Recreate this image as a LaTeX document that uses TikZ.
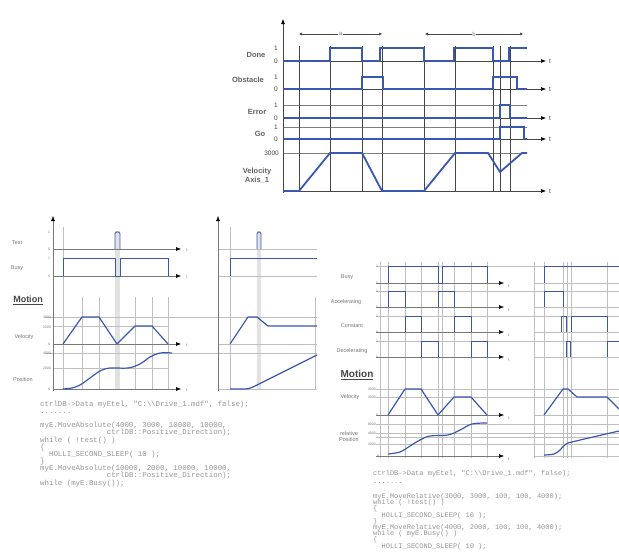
\documentclass[tikz,border=0pt]{standalone}
\usepackage{fontspec}
\setmainfont{Liberation Sans}
\setmonofont{Liberation Mono}
\usetikzlibrary{arrows.meta}
\definecolor{sigblue}{RGB}{58,88,178}
\definecolor{lgray}{RGB}{190,190,190}
\definecolor{dgray}{RGB}{70,70,70}
\definecolor{tgray}{RGB}{120,120,120}
\definecolor{cgray}{RGB}{150,150,150}
\tikzset{
  tsig/.style={draw=sigblue,line width=1.8pt,line join=miter},
  bsig/.style={draw=sigblue,line width=1.2pt,line join=round},
  thinsig/.style={draw=sigblue,line width=0.9pt},
  tvgrid/.style={draw=dgray,line width=0.5pt},
  tgrid/.style={draw=dgray!70,line width=0.4pt},
  bgrid/.style={draw=lgray,line width=0.5pt},
  band/.style={fill=lgray!45,draw=none},
  taxis/.style={draw=dgray,line width=0.6pt,-{Latex[length=5pt,width=4pt,black]}},
  baxis/.style={draw=tgray,line width=0.5pt,-{Latex[length=5pt,width=4pt,black]}},
  dimline/.style={draw=dgray,line width=0.5pt,{Latex[length=3pt,width=3pt]}-{Latex[length=3pt,width=3pt]}},
  tlbl/.style={font=\bfseries\fontsize{7.5}{8}\selectfont,text=dgray!85,inner sep=0pt},
  tick/.style={font=\fontsize{6.5}{7}\selectfont,text=dgray,inner sep=0pt},
  blbl/.style={font=\fontsize{5.5}{6}\selectfont,text=tgray,inner sep=0pt},
  btick/.style={font=\fontsize{3.5}{4}\selectfont,text=tgray,inner sep=0pt},
  motion/.style={font=\bfseries\fontsize{9}{10}\selectfont,text=dgray,inner sep=0.5pt},
  code/.style={font=\ttfamily\fontsize{7.4}{7.5}\selectfont,text=cgray,inner sep=0pt,anchor=west},
  rcode/.style={font=\ttfamily\fontsize{7}{7.2}\selectfont,text=cgray,inner sep=0pt,anchor=west},
}
\begin{document}
\begin{tikzpicture}[x=1pt,y=-1pt]
\useasboundingbox[fill=white] (0,0) rectangle (619,554);

%%%%%%%%%%%%%%%% TOP DIAGRAM %%%%%%%%%%%%%%%%
\foreach \y in {105,127,153} \draw[tgrid] (283,\y) -- (527,\y);
\foreach \x in {299,330,362,382,424,455,493,500,510} \draw[tvgrid] (\x,46) -- (\x,192);
\draw[taxis] (283,193) -- (283,19);
\foreach \y in {61,89,118,139,191} \draw[taxis] (283,\y) -- (546,\y);
\node[tick] (tt1) at (550,61) {t};
\node[tick] (tt2) at (550,89) {t};
\node[tick] (tt3) at (550,118) {t};
\node[tick] (tt4) at (550,139) {t};
\node[tick] (tt5) at (550,191) {t};
% dimension arrows
\draw[dimline] (299,34) -- node[fill=white,inner sep=0.5pt,font=\fontsize{6}{6}\selectfont,text=tgray] (la) {a} (382,34);
\draw[dimline] (425,34) -- node[fill=white,inner sep=0.5pt,font=\fontsize{6}{6}\selectfont,text=tgray] (lb) {b} (523,34);
% signals
\draw[tsig] (283,61) -- (330,61) -- (330,48) -- (362,48) -- (362,61) -- (380,61) -- (380,48) -- (424,48) -- (424,61) -- (454,61) -- (454,48) -- (493,48) -- (493,61) -- (509,61) -- (509,48) -- (527,48);
\draw[tsig] (283,89) -- (362,89) -- (362,77) -- (383,77) -- (383,89) -- (493,89) -- (493,77) -- (517,77) -- (517,89) -- (527,89);
\draw[tsig] (283,118) -- (500,118) -- (500,105) -- (510,105) -- (510,118) -- (527,118);
\draw[tsig] (283,139) -- (500,139) -- (500,127) -- (524,127) -- (524,139) -- (527,139);
\draw[tsig] (283,191) -- (299,191) -- (330,153) -- (362,153) -- (382,191) -- (424,191) -- (455,153) -- (488,153) -- (500,172) -- (522,153) -- (527,153);
% labels
\node[tlbl] (ldone) at (256,55) {Done};
\node[tlbl] (lobst) at (248,80) {Obstacle};
\node[tlbl] (lerr) at (257,112) {Error};
\node[tlbl] (lgo) at (260,134) {Go};
\node[tlbl,align=center] (lvel) at (257,176) {Velocity\\[1pt]Axis\_1};
\node[tick] (d1) at (276,48) {1};
\node[tick] (d0) at (276,61) {0};
\node[tick] (o1) at (276,77) {1};
\node[tick] (o0) at (276,89) {0};
\node[tick] (e1) at (276,105) {1};
\node[tick] (e0) at (276,118) {0};
\node[tick] (g1) at (276,127) {1};
\node[tick] (g0) at (276,139) {0};
\node[tick,anchor=east] (v3) at (279,153) {3000};

%%%%%%%%%%%%%%%% BOTTOM LEFT %%%%%%%%%%%%%%%%
\fill[band] (115,231) rectangle (120,390);
\fill[band] (257,231) rectangle (261,390);
\foreach \x in {63,230} \draw[bgrid] (\x,227) -- (\x,390);
\foreach \x in {82,99,135,152,168,315} \draw[bgrid] (\x,297) -- (\x,390);
\draw[bgrid] (45,317) -- (317,317);
\draw[bgrid] (45,353) -- (317,353);
\draw[bgrid] (53,326) -- (168,326);
\draw[bgrid] (53,368) -- (168,368);
\draw[bgrid] (218,249) -- (317,249);
\draw[bgrid] (218,276) -- (317,276);
\draw[bgrid] (218,344) -- (317,344);
\draw[bgrid] (218,389) -- (317,389);
\draw[baxis] (53,391) -- (53,216);
\draw[baxis] (218,391) -- (218,216);
\foreach \y in {249,276,344,389} \draw[baxis] (53,\y) -- (181,\y);
\node[btick,font=\fontsize{4}{4}\selectfont] (bt1) at (187,250) {t};
\node[btick,font=\fontsize{4}{4}\selectfont] (bt2) at (187,277) {t};
\node[btick,font=\fontsize{4}{4}\selectfont] (bt3) at (187,345) {t};
\node[btick,font=\fontsize{4}{4}\selectfont] (bt4) at (187,390) {t};
% signals
\draw[thinsig,rounded corners=1.5pt] (115,249) -- (115,232) -- (120,232) -- (120,249);
\draw[thinsig] (63,276) -- (63,258) -- (115,258) -- (115,276) -- (120,276) -- (120,258) -- (168,258) -- (168,276);
\draw[bsig] (63,344) -- (82,317) -- (99,317) -- (117,344) -- (135,326) -- (152,326) -- (168,344);
\draw[bsig] plot[smooth,tension=0.6] coordinates {(63,389) (72,388) (80,385) (90,378) (100,371) (110,368) (128,368) (140,364) (150,357) (160,353) (172,353)};
\draw[thinsig,rounded corners=1.5pt] (257,249) -- (257,232) -- (261,232) -- (261,249);
\draw[thinsig] (230,276) -- (230,258) -- (317,258);
\draw[bsig] (230,344) -- (248,317) -- (257,317) -- (268,326) -- (317,326);
\draw[bsig] (230,389) -- (245,389) .. controls (250,389) and (252,387) .. (255,386) -- (317,355);
% labels
\node[blbl] (ltest) at (17,243) {Test};
\node[blbl] (lbusy) at (17,268) {Busy};
\node[motion] (lmot1) at (28,300) {\underline{Motion}};
\node[blbl] (lvel2) at (24,337) {Velocity};
\node[blbl] (lpos) at (23,380) {Position};
\node[btick] (b1) at (49,232) {1};
\node[btick] (b2) at (49,249) {0};
\node[btick] (b3) at (49,258) {1};
\node[btick] (b4) at (49,276) {0};
\node[btick,anchor=east] (b5) at (51,317) {3000};
\node[btick,anchor=east] (b6) at (51,327) {2000};
\node[btick] (b7) at (49,344) {0};
\node[btick,anchor=east] (b8) at (51,353) {4000};
\node[btick,anchor=east] (b9) at (51,368) {2000};
\node[btick] (b10) at (49,389) {0};
% code
\node[code] (c1) at (40,405) {ctrlDB->Data myEtel, "C:\textbackslash\textbackslash Drive\_1.mdf", false);};
\node[code] (c2) at (40,413) {.......};
\node[code] (c3) at (40,426) {myE.MoveAbsolute(4000, 3000, 10000, 10000,};
\node[code] (c4) at (40,433) {\hphantom{myE.MoveAbsolut}ctrlDB::Positive\_Direction);};
\node[code] (c5) at (40,441) {while ( !test() )};
\node[code] (c6) at (40,448) {\{};
\node[code] (c7) at (40,455) {\hphantom{mm}HOLLI\_SECOND\_SLEEP( 10 );};
\node[code] (c8) at (40,462) {\}};
\node[code] (c9) at (40,469) {myE.MoveAbsolute(10000, 2000, 10000, 10000,};
\node[code] (c10) at (40,476) {\hphantom{myE.MoveAbsolut}ctrlDB::Positive\_Direction);};
\node[code] (c11) at (40,484) {while (myE.Busy());};

%%%%%%%%%%%%%%%% BOTTOM RIGHT %%%%%%%%%%%%%%%%
\foreach \x in {380,388,405,421,438,442,454,471,487,534,544,563,567,571,607}
  \draw[bgrid] (\x,262) -- (\x,458);
\foreach \y in {266,291,316,341,389,397,424,433,437,444} \draw[bgrid] (376,\y) -- (619,\y);
\foreach \y in {283,307,332,357,415,456} {
  \draw[baxis] (376,\y) -- (504,\y);
  \draw[bgrid] (534,\y) -- (619,\y);
}
\node[btick,font=\fontsize{4}{4}\selectfont] (rt1) at (509,286) {t};
\node[btick,font=\fontsize{4}{4}\selectfont] (rt2) at (509,310) {t};
\node[btick,font=\fontsize{4}{4}\selectfont] (rt3) at (509,335) {t};
\node[btick,font=\fontsize{4}{4}\selectfont] (rt4) at (509,360) {t};
\node[btick,font=\fontsize{4}{4}\selectfont] (rt5) at (509,418) {t};
\node[btick,font=\fontsize{4}{4}\selectfont] (rt6) at (509,459) {t};
% signals
\draw[thinsig] (388,283) -- (388,266) -- (438,266) -- (438,283) -- (442,283) -- (442,266) -- (487,266) -- (487,283);
\draw[thinsig] (388,307) -- (388,291) -- (405,291) -- (405,307);
\draw[thinsig] (438,307) -- (438,291) -- (454,291) -- (454,307);
\draw[thinsig] (405,332) -- (405,316) -- (421,316) -- (421,332);
\draw[thinsig] (454,332) -- (454,316) -- (471,316) -- (471,332);
\draw[thinsig] (421,357) -- (421,341) -- (438,341) -- (438,357);
\draw[thinsig] (471,357) -- (471,341) -- (487,341) -- (487,357);
\draw[bsig] (388,415) -- (405,389) -- (421,389) -- (438,415) -- (454,397) -- (471,397) -- (487,415);
\draw[bsig] plot[smooth,tension=0.6] coordinates {(388,454) (400,452) (410,446) (420,440) (430,436) (448,435) (460,430) (472,424) (487,423)};
\draw[thinsig] (544,283) -- (544,266) -- (619,266);
\draw[thinsig] (544,307) -- (544,291) -- (563,291) -- (563,307);
\draw[thinsig] (561,332) -- (561,316) -- (566,316) -- (566,332);
\draw[thinsig] (571,332) -- (571,316) -- (607,316) -- (607,332);
\draw[thinsig] (566,357) -- (566,341) -- (570,341) -- (570,357);
\draw[thinsig] (607,357) -- (607,341) -- (619,341);
\draw[bsig] (544,415) -- (563,389) -- (568,389) -- (577,397) -- (607,397) -- (619,409);
\draw[bsig] plot[smooth,tension=0.6] coordinates {(544,455) (554,454) (560,450) (566,444) (576,441) (619,431)};
% labels
\node[blbl] (rbusy) at (347,277) {Busy};
\node[blbl] (racc) at (346,302) {Accelerating};
\node[blbl] (rcon) at (352,326) {Constant};
\node[blbl] (rdec) at (352,351) {Decelerating};
\node[motion,font=\bfseries\fontsize{10}{11}\selectfont] (rmot) at (357,375) {\underline{Motion}};
\node[blbl] (rvel) at (350,397) {Velocity};
\node[blbl,align=center] (rpos) at (349,437) {relative\\Position};
\foreach \y/\n in {266/1,291/1,316/1,341/1} \node[btick] at (377,\y) {\n};
\foreach \y/\n in {283/0,307/0,332/0,357/0} \node[btick] at (377,\y) {\n};
\node[btick,anchor=east] (r3000) at (376,389) {3000};
\node[btick,anchor=east] (r2000) at (376,397) {2000};
\node[btick] (r0) at (377,415) {0};
\node[btick,anchor=east] (r8000) at (376,424) {8000};
\node[btick,anchor=east] (r4000) at (376,433) {4000};
\node[btick,anchor=east] (r1000) at (376,444) {2000};
\node[btick] (r00) at (378,456) {0};
% code
\node[rcode] (rc1) at (373,474) {ctrlDB->Data myEtel, "C:\textbackslash\textbackslash Drive\_1.mdf", false);};
\node[rcode] (rc2) at (373,483) {.......};
\node[rcode] (rc3) at (373,497) {myE.MoveRelative(3000, 3000, 100, 100, 4000);};
\node[rcode] (rc4) at (373,503) {while ( !test() )};
\node[rcode] (rc5) at (373,509) {\{};
\node[rcode] (rc6) at (373,516) {\hphantom{mm}HOLLI\_SECOND\_SLEEP( 10 );};
\node[rcode] (rc7) at (373,522) {\}};
\node[rcode] (rc8) at (373,528) {myE.MoveRelative(4000, 2000, 100, 100, 4000);};
\node[rcode] (rc9) at (373,534) {while ( myE.Busy() )};
\node[rcode] (rc10) at (373,540) {\{};
\node[rcode] (rc11) at (373,547) {\hphantom{mm}HOLLI\_SECOND\_SLEEP( 10 );};
\end{tikzpicture}
\end{document}
